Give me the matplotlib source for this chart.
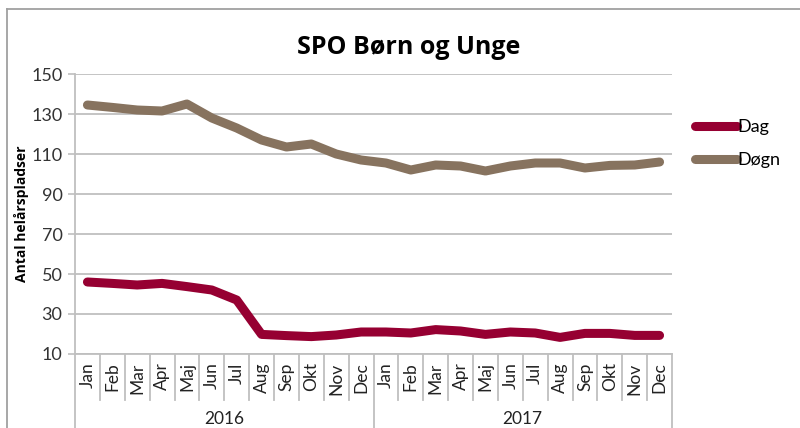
import matplotlib
matplotlib.use("Agg")
import matplotlib.pyplot as plt
from matplotlib.lines import Line2D

months = ["Jan", "Feb", "Mar", "Apr", "Maj", "Jun", "Jul", "Aug", "Sep", "Okt", "Nov", "Dec"]
years = ["2016", "2017"]
categories = months * 2

dag = [46, 45.3, 44.5, 45.3, 43.7, 42, 37, 19.8, 19.2, 18.7, 19.5, 21,
       21, 20.5, 22.2, 21.5, 19.8, 21, 20.5, 18.3, 20.3, 20.3, 19.3, 19.3]
dogn = [134.5, 133.3, 132, 131.5, 135, 128, 123, 117, 113.5, 115, 110, 107,
        105.5, 102, 104.5, 104, 101.5, 104, 105.5, 105.5, 103, 104.3, 104.5, 106]

yticks = [10, 30, 50, 70, 90, 110, 130, 150]

C_DAG = "#960032"
C_DOGN = "#87735F"
GRID = "#BFBFBF"
FONT = "Lato"
BOLDFONT = "Open Sans"

plt.rcParams["font.family"] = [FONT, "DejaVu Sans"]

fig = plt.figure(figsize=(8, 4.28), dpi=100)
ax = fig.add_axes([75/800, 1-354/428, (672-75)/800, (354-74)/428])

x = list(range(len(categories)))
ax.plot(x, dag, color=C_DAG, lw=6.5, solid_capstyle="round", solid_joinstyle="round", label="Dag", zorder=3)
ax.plot(x, dogn, color=C_DOGN, lw=6.5, solid_capstyle="round", solid_joinstyle="round", label="Døgn", zorder=3)

ax.set_xlim(-0.5, len(categories) - 0.5)
ax.set_ylim(10, 150)
ax.set_yticks(yticks)
ax.set_yticklabels([str(v) for v in yticks], fontsize=13, color="#333333")
ax.yaxis.grid(True, color=GRID, lw=1.3)
ax.set_axisbelow(True)
ax.tick_params(axis="y", length=5, width=1.2, color=GRID, pad=4)
for s in ["top", "right"]:
    ax.spines[s].set_visible(False)
ax.spines["left"].set_color(GRID)
ax.spines["left"].set_linewidth(1.3)
ax.spines["bottom"].set_color(GRID)
ax.spines["bottom"].set_linewidth(1.3)

ax.set_xticks(x)
ax.set_xticklabels(categories, rotation=90, fontsize=12.5, color="#222222")
ax.tick_params(axis="x", length=0, pad=6)

# separators in the label area
tr = ax.get_xaxis_transform()
bottom_short = -(400-354)/(354-74)
bottom_long = -(440-354)/(354-74)
for k in range(len(categories) + 1):
    xb = k - 0.5
    long = (k % 12 == 0)
    ax.add_line(Line2D([xb, xb], [0, bottom_long if long else bottom_short], transform=tr,
                       color=GRID, lw=1.3, clip_on=False))
for i, yr in enumerate(years):
    ax.text(i*12 + 5.5, -(411-354)/(354-74), yr, transform=tr, ha="center", va="top",
            fontsize=12.5, color="#222222")

ax.set_ylabel("Antal helårspladser", fontsize=10, fontweight="bold", va="center",
              family=[BOLDFONT, "DejaVu Sans"])
ax.yaxis.set_label_coords(-(75-22)/(672-75), (354-214)/(354-74))

fig.text(409/800, 1-47/428, "SPO Børn og Unge", ha="center", va="center",
         fontsize=18, fontweight="bold", color="black", family=[BOLDFONT, "DejaVu Sans"])

leg = ax.legend(loc="upper left", bbox_to_anchor=(686/800, 1-110/428), bbox_transform=fig.transFigure,
                frameon=False, fontsize=13, handlelength=2.3, handletextpad=0.05,
                labelspacing=0.95, borderpad=0)

# outer chart frame
fig.add_artist(Line2D([7/800, 1], [1-9/428, 1-9/428], transform=fig.transFigure, color="#A0A0A0", lw=1.3))
fig.add_artist(Line2D([7/800, 7/800], [0, 1-9/428], transform=fig.transFigure, color="#A0A0A0", lw=1.3))

fig.savefig("out.png", dpi=100)
